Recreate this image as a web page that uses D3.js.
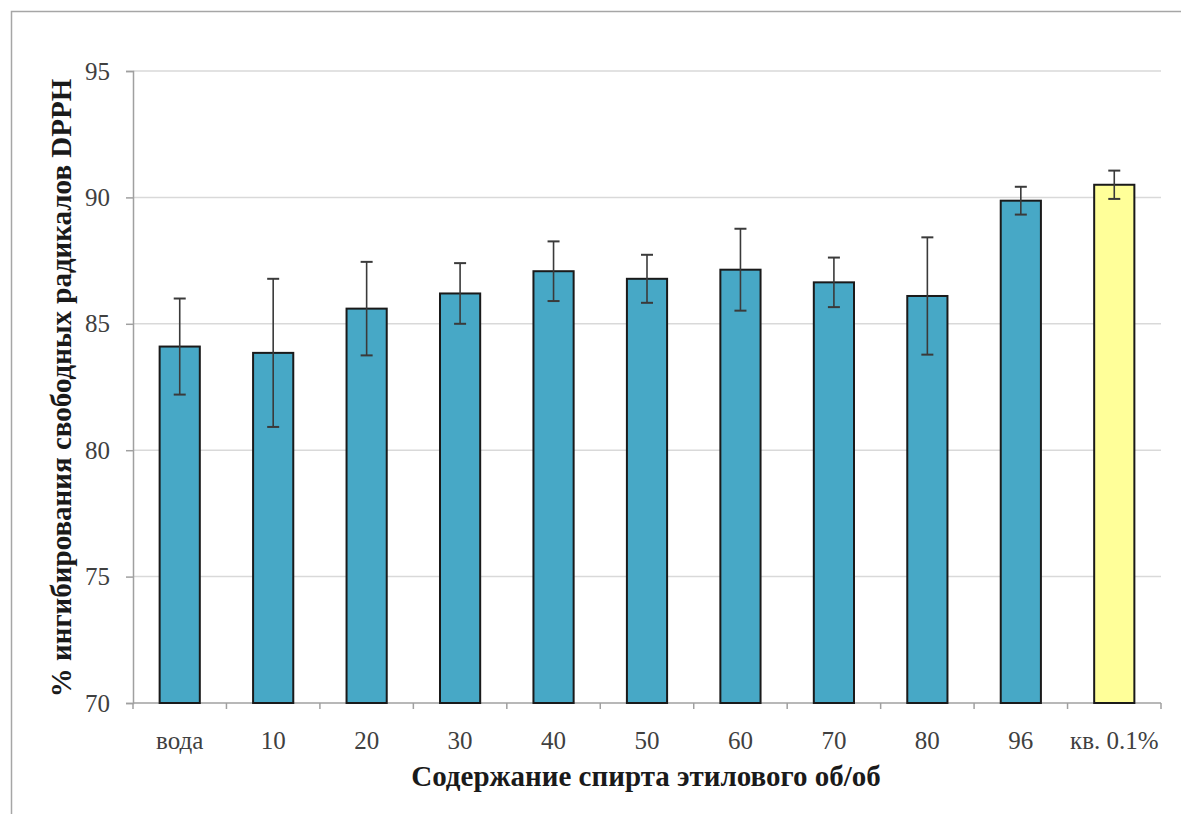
<!DOCTYPE html>
<html>
<head>
<meta charset="utf-8">
<script src="https://cdn.jsdelivr.net/npm/d3@7"></script>
<style>
  html, body { margin: 0; padding: 0; background: #ffffff; }
  svg { display: block; }
</style>
</head>
<body>
<svg id="chart" width="1181" height="814"></svg>
<script>
// DPPH radical inhibition by ethanol concentration (% v/v)
const categories = ["вода", "10", "20", "30", "40", "50", "60", "70", "80", "96", "кв. 0.1%"];
const means      = [84.1, 83.85, 85.6, 86.2, 87.08, 86.78, 87.14, 86.64, 86.1, 89.87, 90.5];
const errors     = [1.9, 2.93, 1.85, 1.2, 1.18, 0.95, 1.62, 0.98, 2.32, 0.55, 0.56];
const barColors  = ["#47A8C6", "#47A8C6", "#47A8C6", "#47A8C6", "#47A8C6", "#47A8C6",
                    "#47A8C6", "#47A8C6", "#47A8C6", "#47A8C6", "#FFFF99"];
const yTicks     = [70, 75, 80, 85, 90, 95];
const yTitle = "% ингибирования свободных радикалов DPPH";
const xTitle = "Содержание спирта этилового об/об";

const serif = "'Liberation Serif', 'Times New Roman', serif";
const svg = d3.select("#chart");
const plot = { left: 133, right: 1161, top: 71, bottom: 703 };

// outer frame
svg.append("rect")
  .attr("x", 11.5).attr("y", 11.5)
  .attr("width", 1200).attr("height", 900)
  .attr("fill", "none").attr("stroke", "#a6a6a6").attr("stroke-width", 1.5);

const x = d3.scaleBand().domain(categories).range([plot.left, plot.right]).paddingInner(0.57).paddingOuter(0.285);
const y = d3.scaleLinear().domain([70, 95]).range([plot.bottom, plot.top]);

// horizontal gridlines
svg.append("g").selectAll("line").data(yTicks.filter(t => t > 70)).join("line")
  .attr("x1", plot.left).attr("x2", plot.right)
  .attr("y1", d => y(d)).attr("y2", d => y(d))
  .attr("stroke", "#d9d9d9").attr("stroke-width", 1.5);

// y axis
const yAxis = svg.append("g").attr("transform", `translate(${plot.left},0)`)
  .call(d3.axisLeft(y).tickValues(yTicks).tickSize(7).tickPadding(16));
yAxis.select(".domain").attr("stroke", "#a0a0a0").attr("stroke-width", 1.5);
yAxis.selectAll(".tick line").attr("stroke", "#a0a0a0").attr("stroke-width", 1.5);
yAxis.selectAll("text")
  .attr("font-family", serif)
  .attr("font-size", 25).attr("fill", "#404040");

// x axis line with ticks between categories
const xAxisG = svg.append("g");
xAxisG.append("line")
  .attr("x1", plot.left).attr("x2", plot.right)
  .attr("y1", plot.bottom).attr("y2", plot.bottom)
  .attr("stroke", "#a0a0a0").attr("stroke-width", 1.5);
const step = x.step();
xAxisG.selectAll("line.tick").data(d3.range(categories.length + 1)).join("line")
  .attr("class", "tick")
  .attr("x1", i => plot.left + i * step).attr("x2", i => plot.left + i * step)
  .attr("y1", plot.bottom).attr("y2", plot.bottom + 6)
  .attr("stroke", "#a0a0a0").attr("stroke-width", 1.5);
xAxisG.selectAll("text").data(categories).join("text")
  .attr("x", d => x(d) + x.bandwidth() / 2)
  .attr("y", plot.bottom + 46)
  .attr("text-anchor", "middle")
  .attr("font-family", serif)
  .attr("font-size", 25).attr("fill", "#404040")
  .text(d => d);

// bars
svg.append("g").selectAll("rect").data(categories).join("rect")
  .attr("x", d => x(d))
  .attr("y", (d, i) => y(means[i]))
  .attr("width", x.bandwidth())
  .attr("height", (d, i) => y(70) - y(means[i]))
  .attr("fill", (d, i) => barColors[i])
  .attr("stroke", "#1a1a1a").attr("stroke-width", 2);

// error bars
const eg = svg.append("g").attr("stroke", "#3a3a3a").attr("stroke-width", 1.6);
categories.forEach((c, i) => {
  const cx = x(c) + x.bandwidth() / 2;
  const hi = y(means[i] + errors[i]);
  const lo = y(means[i] - errors[i]);
  eg.append("line").attr("x1", cx).attr("x2", cx).attr("y1", hi).attr("y2", lo);
  eg.append("line").attr("x1", cx - 6).attr("x2", cx + 6).attr("y1", hi).attr("y2", hi).attr("stroke-width", 2);
  eg.append("line").attr("x1", cx - 6).attr("x2", cx + 6).attr("y1", lo).attr("y2", lo).attr("stroke-width", 2);
});

// axis titles
svg.append("text")
  .attr("transform", `translate(71, ${(plot.top + plot.bottom) / 2 + 1}) rotate(-90)`)
  .attr("text-anchor", "middle")
  .attr("font-family", serif)
  .attr("font-size", 29).attr("font-weight", "bold").attr("fill", "#1a1a1a")
  .text(yTitle);

svg.append("text")
  .attr("x", 646).attr("y", 786)
  .attr("text-anchor", "middle")
  .attr("font-family", serif)
  .attr("font-size", 29).attr("font-weight", "bold").attr("fill", "#1a1a1a")
  .text(xTitle);
</script>
</body>
</html>
